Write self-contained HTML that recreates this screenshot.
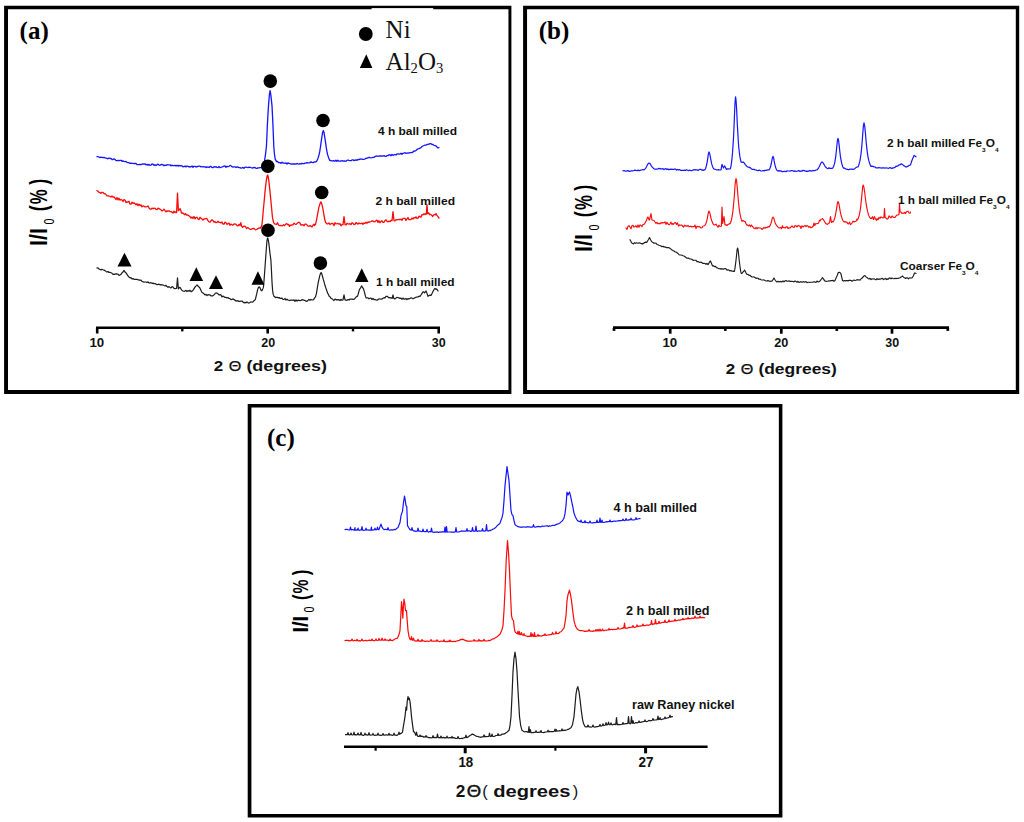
<!DOCTYPE html>
<html><head><meta charset="utf-8"><title>XRD patterns</title>
<style>
html,body{margin:0;padding:0;background:#fff;}
body{width:1024px;height:822px;overflow:hidden;font-family:"Liberation Sans",sans-serif;}
svg{display:block;}
</style></head>
<body>
<svg width="1024" height="822" viewBox="0 0 1024 822">
<rect width="1024" height="822" fill="#fff"/>
<path d="M4.1,5.85H511.4V393.9H4.1Z M8.00,9.30V390.00H508.45V9.30Z" fill="#000" fill-rule="evenodd"/>
<path d="M523.1,5.85H1019.2V393.9H523.1Z M527.05,9.35V390.00H1015.80V9.35Z" fill="#000" fill-rule="evenodd"/>
<path d="M247.7,403.95H782.4V817.6H247.7Z M251.40,407.50V813.90H778.85V407.50Z" fill="#000" fill-rule="evenodd"/>
<rect x="371.6" y="8.1" width="61.6" height="2" fill="#fff"/>
<text x="19.6" y="38.8" font-family="Liberation Serif, serif" font-weight="bold" font-size="25" fill="#000">(a)</text>
<text x="538.8" y="38.8" font-family="Liberation Serif, serif" font-weight="bold" font-size="25" fill="#000">(b)</text>
<text x="267" y="445.7" font-family="Liberation Serif, serif" font-weight="bold" font-size="25" fill="#000">(c)</text>
<circle cx="365.8" cy="34" r="6.9" fill="#000"/>
<path d="M359.8,68 L366.3,54.2 L372.4,68 Z" fill="#000"/>
<text x="385.6" y="38.1" font-family="Liberation Serif, serif" font-size="25" fill="#111">Ni</text>
<text x="385.6" y="69.6" font-family="Liberation Serif, serif" font-size="25" fill="#111">Al<tspan font-size="14.6" dy="3.2">2</tspan><tspan dy="-3.2">O</tspan><tspan font-size="14.6" dy="3.2">3</tspan></text>
<path d="M97.0,156.6 L98.0,156.7 L99.0,157.0 L100.0,157.7 L101.0,157.2 L102.0,157.4 L103.0,157.7 L104.0,157.3 L105.0,157.9 L106.0,158.1 L107.0,158.4 L108.0,158.8 L109.0,158.0 L110.0,158.5 L111.0,158.4 L112.0,159.5 L113.0,159.5 L114.0,158.8 L115.0,159.6 L116.0,160.5 L117.0,160.7 L118.0,160.5 L119.0,160.7 L120.0,160.3 L121.0,160.3 L122.0,161.3 L123.0,160.9 L124.0,161.3 L125.0,161.6 L126.0,161.5 L127.0,162.3 L128.0,162.6 L129.0,162.7 L130.0,163.4 L131.0,163.1 L132.0,163.4 L133.0,163.3 L134.0,163.7 L135.0,163.5 L136.0,163.4 L137.0,164.6 L138.0,164.7 L139.0,164.6 L140.0,164.3 L141.0,164.6 L142.0,164.1 L143.0,164.0 L144.0,164.1 L145.0,163.8 L146.0,164.9 L147.0,164.4 L148.0,165.1 L149.0,164.4 L150.0,165.3 L151.0,165.2 L152.0,163.9 L153.0,164.3 L154.0,165.4 L155.0,164.7 L156.0,165.5 L157.0,164.7 L158.0,164.2 L159.0,165.1 L160.0,165.3 L161.0,164.6 L162.0,164.4 L163.0,164.8 L164.0,165.8 L165.0,165.1 L166.0,165.5 L167.0,164.7 L168.0,164.9 L169.0,164.8 L170.0,164.8 L171.0,165.9 L172.0,165.1 L173.0,165.7 L174.0,165.6 L175.0,165.3 L176.0,166.1 L177.0,165.3 L178.0,166.1 L179.0,165.4 L180.0,165.9 L181.0,165.6 L182.0,165.8 L183.0,166.9 L184.0,166.7 L185.0,166.0 L186.0,166.9 L187.0,166.0 L188.0,166.3 L189.0,167.1 L190.0,166.6 L191.0,166.8 L192.0,166.0 L193.0,167.4 L194.0,166.3 L195.0,166.3 L196.0,167.1 L197.0,166.5 L198.0,166.5 L199.0,166.1 L200.0,166.2 L201.0,166.9 L202.0,166.5 L203.0,167.0 L204.0,166.7 L205.0,166.8 L206.0,167.6 L207.0,166.9 L208.0,167.1 L209.0,167.5 L210.0,166.5 L211.0,166.5 L212.0,167.6 L213.0,167.5 L214.0,166.7 L215.0,167.1 L216.0,166.6 L217.0,167.4 L218.0,167.6 L219.0,166.5 L220.0,167.6 L221.0,167.4 L222.0,167.0 L223.0,166.7 L224.0,166.2 L225.0,166.0 L226.0,167.4 L227.0,166.3 L228.0,166.6 L229.0,166.4 L230.0,165.4 L230.5,165.4 L231.5,166.4 L232.5,166.9 L233.0,167.1 L234.0,166.9 L235.0,166.8 L236.0,167.6 L237.0,166.8 L238.0,167.1 L239.0,167.6 L240.0,167.6 L241.0,168.1 L242.0,167.8 L243.0,167.4 L244.0,168.3 L245.0,167.3 L246.0,167.0 L247.0,167.4 L248.0,167.7 L249.0,167.2 L250.0,167.4 L251.0,167.7 L252.0,167.9 L253.0,168.0 L254.0,167.3 L255.0,167.6 L256.0,168.3 L257.0,168.4 L258.0,167.9 L259.0,167.9 L260.0,167.6 L261.0,167.7 L262.0,167.1 L263.0,166.9 L263.5,167.6 L264.6,160.6 L265.6,153.6 L266.4,146.6 L266.9,136.6 L267.3,126.2 L267.9,115.6 L268.5,105.6 L269.4,94.6 L270.1,90.6 L270.8,94.6 L272.0,105.6 L272.5,115.6 L273.0,126.2 L273.4,136.6 L273.8,146.6 L274.4,153.6 L275.2,159.1 L276.5,161.6 L277.5,161.3 L278.5,162.7 L279.5,162.7 L280.0,162.6 L281.0,163.4 L282.0,162.1 L283.0,163.1 L284.0,163.0 L285.0,163.4 L286.0,162.9 L287.0,164.0 L288.0,162.8 L289.0,163.6 L290.0,163.6 L291.0,164.0 L292.0,164.2 L293.0,164.0 L294.0,163.9 L295.0,164.0 L296.0,164.2 L297.0,163.4 L298.0,163.9 L299.0,164.2 L300.0,163.6 L301.0,164.0 L302.0,163.3 L303.0,163.7 L304.0,163.7 L305.0,163.2 L306.0,163.2 L307.0,162.7 L308.0,162.9 L309.0,162.9 L310.0,162.6 L311.0,161.9 L312.0,162.4 L313.0,162.7 L314.0,161.9 L315.0,162.1 L316.0,161.6 L316.8,161.1 L317.5,159.6 L318.2,157.6 L319.0,155.0 L319.7,151.7 L320.4,147.4 L321.1,142.3 L321.9,136.9 L322.6,132.4 L323.3,130.6 L324.0,132.4 L324.7,136.8 L325.5,142.1 L326.2,147.2 L326.9,151.3 L327.6,154.6 L328.4,157.1 L329.1,159.1 L329.8,160.6 L330.8,160.5 L331.8,161.0 L332.8,160.9 L333.8,160.7 L334.8,161.3 L335.8,160.3 L336.8,161.3 L337.8,160.3 L338.8,161.2 L340.0,161.1 L341.0,161.0 L342.0,160.6 L343.0,161.2 L344.0,160.9 L345.0,161.0 L346.0,161.4 L347.0,160.4 L348.0,160.0 L349.0,160.4 L350.0,160.6 L351.0,160.7 L352.0,159.9 L353.0,159.8 L354.0,160.7 L355.0,160.2 L356.0,159.8 L357.0,160.3 L358.0,159.4 L359.0,159.7 L360.0,158.9 L361.0,159.1 L362.0,159.1 L363.0,159.3 L364.0,159.3 L365.0,159.0 L366.0,158.2 L367.0,158.3 L368.0,157.7 L369.0,157.3 L370.0,157.6 L371.0,157.8 L372.0,157.6 L373.0,157.3 L374.0,157.4 L375.0,156.6 L376.0,156.2 L377.0,156.0 L378.0,156.3 L379.0,156.0 L380.0,155.8 L381.0,156.0 L382.0,156.2 L383.0,156.0 L384.0,155.6 L385.0,156.3 L386.0,156.4 L387.0,155.6 L388.0,155.6 L389.0,154.9 L390.0,154.7 L391.0,155.7 L392.0,154.5 L393.0,155.3 L394.0,154.9 L395.0,154.5 L396.0,155.0 L397.0,153.8 L398.0,153.8 L399.0,154.2 L400.0,154.1 L401.0,153.3 L402.0,154.3 L403.0,153.3 L404.0,153.0 L405.0,152.7 L406.0,153.4 L407.0,153.0 L408.0,153.1 L409.0,153.0 L410.0,152.6 L411.0,152.7 L412.0,152.6 L413.0,151.9 L414.0,151.0 L415.0,151.1 L416.0,150.5 L417.0,149.5 L418.0,148.8 L419.0,148.7 L420.0,148.1 L421.0,147.7 L422.0,146.5 L423.0,146.0 L424.0,145.5 L425.0,145.1 L426.0,145.1 L427.0,144.5 L428.0,144.3 L429.0,144.2 L430.0,143.6 L431.0,143.7 L432.0,144.5 L433.0,144.4 L434.0,145.4 L435.0,145.6 L436.0,145.9 L437.0,147.1 L438.0,147.9 L439.0,147.6" fill="none" stroke="#1414ff" stroke-width="1.3" stroke-linejoin="round" stroke-linecap="round"/>
<path d="M97.0,190.6 L98.0,191.2 L99.0,192.3 L100.0,192.6 L101.0,193.4 L102.0,192.3 L103.0,192.3 L104.0,193.6 L105.0,193.7 L106.0,194.6 L107.0,195.8 L108.0,195.9 L109.0,196.0 L110.0,196.3 L111.0,197.0 L112.0,196.0 L113.0,197.2 L114.0,196.8 L115.0,198.1 L116.0,199.5 L117.0,197.5 L118.0,199.9 L119.0,198.2 L120.0,200.1 L121.0,199.5 L122.0,200.0 L123.0,201.5 L124.0,199.6 L125.0,200.0 L126.0,202.6 L127.0,201.8 L128.0,202.1 L129.0,201.3 L130.0,204.0 L131.0,204.2 L132.0,202.2 L133.0,203.3 L134.0,202.9 L135.0,203.6 L136.0,204.8 L137.0,203.8 L138.0,205.6 L139.0,204.1 L140.0,205.6 L141.0,204.9 L142.0,206.9 L143.0,205.9 L144.0,206.2 L145.0,206.9 L146.0,206.8 L147.0,206.7 L148.0,205.9 L149.0,208.1 L150.0,209.0 L151.0,209.2 L152.0,208.1 L153.0,208.8 L154.0,208.1 L155.0,208.3 L156.0,209.4 L157.0,209.6 L158.0,208.1 L159.0,208.7 L160.0,209.2 L161.0,209.9 L162.0,210.9 L163.0,210.2 L164.0,209.1 L165.0,210.6 L166.0,211.7 L167.0,210.8 L168.0,211.3 L169.0,210.7 L170.0,211.5 L171.0,211.6 L172.0,212.1 L173.0,213.0 L174.0,211.1 L175.0,212.6 L176.0,211.6 L176.6,212.6 L177.5,193.1 L178.4,210.6 L179.4,209.7 L180.0,208.6 L181.0,211.1 L181.5,213.1 L182.5,212.9 L183.5,213.5 L184.5,214.7 L185.5,213.6 L186.5,215.1 L187.5,214.8 L188.5,215.4 L189.5,216.3 L190.0,216.6 L191.0,218.1 L192.0,217.0 L193.0,218.5 L194.0,216.5 L195.0,218.8 L196.0,217.5 L197.0,217.2 L198.0,219.0 L199.0,219.6 L200.0,217.3 L201.0,218.2 L202.0,219.1 L203.0,220.1 L204.0,219.0 L205.0,218.9 L206.0,218.5 L207.0,218.7 L208.0,220.6 L209.0,221.8 L210.0,222.1 L211.0,220.8 L212.0,219.7 L213.0,220.7 L214.0,222.2 L215.0,221.6 L216.0,222.7 L217.0,222.3 L218.0,221.3 L219.0,222.3 L220.0,222.3 L221.0,222.9 L222.0,222.0 L223.0,224.1 L224.0,224.1 L225.0,222.1 L226.0,222.7 L227.0,224.5 L228.0,223.6 L229.0,223.1 L230.0,225.2 L231.0,224.1 L232.0,224.8 L233.0,225.0 L234.0,223.8 L235.0,224.1 L236.0,224.2 L237.0,225.6 L238.0,225.8 L239.0,224.4 L240.0,225.6 L240.8,222.6 L241.6,226.1 L242.6,227.4 L243.6,226.3 L244.6,226.1 L245.6,226.8 L246.6,228.6 L247.6,227.6 L248.6,228.1 L249.6,229.1 L250.6,229.5 L251.6,229.1 L252.5,228.6 L253.5,228.3 L254.5,228.9 L255.5,229.9 L256.5,229.5 L257.5,228.9 L258.0,228.6 L259.0,228.0 L260.0,227.8 L260.5,228.1 L261.8,225.6 L262.6,218.6 L263.4,209.2 L264.4,198.6 L265.2,189.6 L266.3,180.6 L267.0,176.6 L267.6,175.0 L268.2,176.6 L268.8,180.6 L269.8,189.6 L270.7,198.6 L271.7,209.2 L272.5,217.6 L273.6,222.6 L274.6,223.9 L275.5,224.1 L276.5,224.4 L277.5,222.8 L278.5,225.0 L279.5,225.6 L280.5,225.4 L281.5,225.7 L282.5,225.8 L283.5,224.8 L284.5,225.6 L285.5,224.4 L286.5,223.6 L287.5,224.5 L288.5,224.4 L289.5,226.4 L290.0,225.1 L291.0,225.4 L292.0,224.8 L293.0,224.8 L294.0,223.2 L295.0,224.1 L296.0,224.4 L297.0,223.6 L298.0,222.6 L299.0,222.1 L300.0,223.2 L301.0,225.1 L302.0,224.9 L303.0,224.7 L304.0,225.8 L305.0,224.2 L306.0,224.1 L307.0,224.9 L308.0,226.1 L309.0,226.3 L310.0,225.6 L311.0,226.1 L312.0,227.0 L313.0,225.2 L314.0,224.1 L314.5,225.6 L315.6,224.1 L316.6,219.6 L317.6,214.1 L318.8,207.6 L320.0,203.6 L320.9,201.9 L321.7,203.6 L322.8,208.1 L323.8,214.1 L324.6,218.6 L325.6,222.6 L326.6,223.5 L327.0,223.9 L328.0,223.8 L329.0,223.0 L330.0,224.6 L331.0,223.6 L332.0,223.3 L333.0,223.6 L334.0,225.6 L335.0,222.7 L336.0,223.9 L337.0,223.7 L338.0,223.4 L339.0,224.2 L340.0,223.6 L341.0,225.8 L342.0,224.6 L343.0,224.6 L344.0,216.6 L345.0,224.6 L346.0,225.0 L347.0,223.2 L348.0,223.9 L349.0,224.1 L350.0,223.6 L351.0,224.6 L352.0,222.7 L353.0,223.3 L354.0,224.5 L355.0,224.4 L356.0,222.5 L357.0,223.4 L358.0,224.1 L359.0,222.9 L360.0,223.7 L361.0,223.7 L362.0,223.1 L363.0,224.4 L364.0,223.0 L365.0,223.3 L366.0,222.2 L367.0,223.2 L368.0,221.9 L369.0,222.3 L370.0,221.8 L371.0,221.5 L372.0,220.9 L373.0,221.0 L374.0,221.8 L375.0,221.6 L376.0,220.8 L377.0,220.1 L378.0,222.4 L379.0,220.7 L380.0,222.7 L381.0,221.6 L382.0,220.8 L383.0,222.3 L384.0,222.3 L385.0,220.5 L386.0,219.8 L387.0,221.3 L388.0,221.9 L389.0,221.1 L390.0,221.6 L391.0,220.4 L392.0,220.6 L393.0,211.6 L394.0,220.6 L395.0,220.8 L396.0,219.6 L397.0,219.8 L398.0,219.6 L399.0,219.4 L400.0,219.6 L401.0,219.2 L402.0,220.3 L403.0,218.3 L404.0,218.3 L405.0,218.4 L406.0,220.4 L407.0,219.0 L408.0,217.5 L409.0,219.7 L410.0,219.7 L411.0,219.5 L412.0,218.0 L413.0,219.0 L414.0,217.6 L415.0,218.1 L416.0,216.8 L417.0,218.5 L418.0,218.1 L419.0,216.1 L420.0,216.6 L421.0,217.2 L422.0,214.6 L423.0,214.9 L424.0,213.7 L425.0,214.6 L426.0,213.4 L426.4,214.1 L427.0,204.6 L427.6,213.6 L428.6,212.9 L429.6,214.6 L430.0,214.1 L431.0,214.7 L432.0,215.5 L432.5,216.6 L433.5,215.1 L434.5,214.5 L435.5,214.8 L436.0,213.6 L437.0,215.3 L438.0,216.6 L439.0,218.1" fill="none" stroke="#ff0a0a" stroke-width="1.3" stroke-linejoin="round" stroke-linecap="round"/>
<path d="M97.0,267.9 L98.0,267.9 L99.0,269.0 L100.0,269.4 L101.0,270.0 L102.0,269.3 L103.0,269.8 L104.0,270.1 L105.0,270.6 L106.0,271.4 L107.0,272.1 L108.0,271.5 L109.0,272.5 L110.0,272.3 L111.0,272.7 L112.0,273.3 L113.0,274.3 L114.0,274.2 L115.0,274.4 L116.0,273.6 L117.0,274.2 L118.0,274.0 L119.0,275.5 L120.0,274.9 L121.0,274.3 L122.0,272.9 L123.0,272.0 L124.0,270.4 L125.0,272.0 L126.0,272.9 L127.0,274.4 L128.0,275.9 L129.0,277.0 L130.0,277.9 L131.0,277.7 L132.0,279.0 L133.0,278.6 L134.0,279.3 L135.0,279.3 L136.0,279.3 L137.0,279.4 L138.0,279.8 L139.0,279.8 L140.0,280.4 L141.0,280.0 L142.0,281.5 L143.0,281.7 L144.0,282.2 L145.0,282.0 L146.0,282.0 L147.0,282.6 L148.0,281.8 L149.0,283.0 L150.0,282.8 L151.0,282.6 L152.0,283.4 L153.0,283.1 L154.0,283.8 L155.0,283.5 L156.0,284.1 L157.0,284.6 L158.0,284.4 L159.0,284.1 L160.0,284.9 L161.0,284.7 L162.0,284.8 L163.0,285.0 L164.0,285.5 L165.0,285.9 L166.0,285.4 L167.0,286.6 L168.0,287.3 L169.0,286.6 L170.0,287.4 L171.0,288.0 L172.0,286.6 L173.0,287.0 L174.0,288.4 L175.0,288.7 L176.0,288.5 L176.6,288.4 L177.5,277.9 L178.4,288.9 L179.4,287.5 L180.0,287.4 L181.0,289.0 L181.5,289.9 L182.5,290.8 L183.5,291.1 L184.5,291.3 L185.0,290.9 L186.0,290.3 L187.0,291.6 L188.0,290.6 L189.0,291.3 L190.0,290.2 L191.0,291.8 L192.0,291.1 L192.5,290.9 L193.5,289.6 L194.5,287.9 L195.5,286.4 L196.5,285.6 L197.0,284.9 L198.0,286.0 L199.0,287.0 L199.5,287.4 L200.5,289.3 L201.5,291.6 L202.0,292.4 L203.0,293.0 L204.0,293.8 L205.0,294.9 L206.0,294.4 L207.0,295.5 L208.0,294.6 L209.0,294.9 L210.0,294.8 L211.0,296.0 L212.0,295.9 L212.5,295.9 L213.5,295.2 L214.5,294.4 L215.5,293.0 L216.5,292.9 L217.5,293.6 L218.5,294.3 L219.0,294.9 L220.0,294.7 L221.0,294.9 L222.0,296.9 L223.0,296.0 L224.0,296.7 L225.0,297.4 L226.0,297.3 L227.0,298.1 L228.0,297.5 L229.0,298.5 L230.0,298.6 L231.0,299.7 L232.0,299.4 L233.0,298.8 L234.0,299.6 L235.0,300.1 L236.0,301.2 L237.0,300.7 L238.0,300.9 L239.0,301.4 L240.0,301.4 L241.0,301.2 L242.0,301.0 L243.0,302.0 L244.0,302.9 L245.0,302.4 L246.0,302.9 L247.0,301.9 L248.0,302.8 L249.0,303.1 L250.0,302.4 L251.0,301.8 L252.0,302.2 L253.0,301.9 L254.0,300.7 L255.3,299.6 L256.6,294.4 L257.6,289.9 L258.4,287.4 L259.3,286.8 L260.3,288.4 L261.3,290.7 L261.9,290.7 L262.8,288.9 L263.4,287.4 L263.9,282.1 L264.7,271.2 L265.5,260.2 L266.3,249.2 L266.9,241.4 L267.6,237.8 L268.4,240.4 L269.1,245.4 L270.0,253.4 L270.9,260.2 L271.5,271.2 L272.0,282.1 L272.6,290.4 L273.2,294.4 L274.0,296.4 L275.0,296.9 L275.5,297.6 L276.5,297.4 L277.5,297.4 L278.5,297.9 L279.5,297.5 L280.0,298.4 L281.0,298.4 L282.0,298.1 L283.0,299.5 L284.0,299.4 L285.0,298.5 L286.0,300.1 L287.0,299.2 L288.0,300.0 L289.0,300.3 L290.0,300.4 L291.0,300.1 L292.0,300.0 L293.0,300.4 L294.0,299.8 L295.0,301.3 L296.0,299.8 L297.0,301.2 L298.0,300.1 L299.0,300.3 L300.0,300.7 L301.0,300.4 L302.0,299.7 L303.0,299.9 L304.0,300.3 L305.0,300.4 L306.0,301.2 L307.0,301.4 L308.0,300.4 L309.0,299.4 L310.0,300.3 L311.0,299.4 L312.0,300.0 L313.0,300.0 L314.0,299.0 L315.0,297.4 L315.5,296.9 L316.5,293.1 L317.4,287.4 L318.3,282.1 L319.6,276.4 L320.4,273.6 L321.1,272.5 L321.7,273.6 L322.4,275.9 L323.3,279.4 L324.1,282.1 L325.1,285.8 L325.8,287.9 L326.8,290.8 L327.6,293.1 L328.6,294.7 L329.3,296.4 L330.3,297.0 L331.0,298.4 L332.0,298.7 L333.0,299.7 L334.0,300.5 L335.0,299.1 L336.0,299.8 L337.0,299.6 L338.0,299.9 L339.0,299.6 L340.0,300.5 L341.0,299.3 L342.0,300.3 L343.0,299.9 L344.0,294.9 L345.0,299.9 L346.0,300.1 L347.0,300.4 L348.0,299.5 L349.0,300.1 L350.0,299.0 L351.0,299.1 L352.0,299.1 L353.0,299.3 L354.0,299.3 L355.0,298.4 L356.0,297.1 L357.0,296.3 L357.5,296.4 L358.5,292.9 L359.5,289.4 L360.5,288.0 L361.5,285.9 L362.5,287.4 L363.5,288.9 L364.5,292.4 L365.5,296.4 L366.0,297.9 L367.0,297.9 L368.0,297.9 L369.0,298.9 L370.0,298.1 L371.0,298.2 L372.0,299.6 L373.0,298.5 L374.0,299.7 L375.0,299.4 L376.0,300.0 L377.0,300.1 L378.0,299.6 L379.0,298.8 L380.0,299.0 L381.0,299.3 L382.0,298.9 L383.0,298.4 L384.0,297.6 L385.0,297.9 L386.0,296.4 L387.0,296.3 L387.5,296.4 L388.5,297.7 L389.5,297.6 L390.0,297.9 L391.0,297.7 L392.2,298.4 L393.0,294.9 L393.8,298.4 L394.8,299.0 L395.8,298.3 L396.8,297.4 L397.8,297.5 L398.8,297.9 L400.0,298.4 L401.0,298.1 L402.0,299.3 L403.0,298.0 L404.0,299.2 L405.0,299.2 L406.0,298.4 L407.0,299.5 L408.0,298.6 L409.0,299.0 L410.0,298.4 L411.0,297.8 L412.0,298.1 L413.0,298.9 L414.0,298.1 L415.0,297.9 L416.0,297.1 L417.0,297.1 L418.0,297.0 L419.0,296.2 L420.0,296.4 L421.0,295.0 L422.0,293.4 L423.0,291.9 L424.0,291.9 L424.5,292.9 L425.5,291.9 L426.0,290.9 L427.0,293.4 L428.0,296.4 L429.0,295.5 L430.0,295.1 L431.0,295.4 L432.0,293.5 L433.0,291.4 L434.0,289.7 L435.0,288.4 L436.0,289.4 L436.5,288.9 L437.5,290.2 L438.0,290.9" fill="none" stroke="#1c1c1c" stroke-width="1.2" stroke-linejoin="round" stroke-linecap="round"/>
<circle cx="270.3" cy="81.1" r="6.8" fill="#000"/>
<circle cx="323" cy="120.5" r="6.8" fill="#000"/>
<circle cx="267.8" cy="166.3" r="6.8" fill="#000"/>
<circle cx="321.7" cy="192.5" r="6.8" fill="#000"/>
<circle cx="268.0" cy="230.2" r="6.8" fill="#000"/>
<circle cx="320.4" cy="263.1" r="6.8" fill="#000"/>
<path d="M117.5,266.6 L124.5,252.7 L131.5,266.6 Z" fill="#000"/>
<path d="M189.5,281 L196.3,267.2 L203.1,281 Z" fill="#000"/>
<path d="M209,289 L216.0,275.2 L223,289 Z" fill="#000"/>
<path d="M251.5,284.8 L257.95,271.3 L264.4,284.8 Z" fill="#000"/>
<path d="M355,282 L361.75,268.3 L368.5,282 Z" fill="#000"/>
<path d="M96,327.7 H440" stroke="#000" stroke-width="2.6" fill="none"/>
<path d="M97.2,328 V333.5" stroke="#000" stroke-width="2.6" fill="none"/>
<path d="M267.7,328 V333.5" stroke="#000" stroke-width="2.6" fill="none"/>
<path d="M438.7,328 V333.5" stroke="#000" stroke-width="2.6" fill="none"/>
<path d="M182.3,328 V331.4" stroke="#000" stroke-width="2.4" fill="none"/>
<path d="M353,328 V331.4" stroke="#000" stroke-width="2.4" fill="none"/>
<text x="89.4" y="346.5" font-family="Liberation Sans, sans-serif" font-weight="bold" font-size="12" fill="#111" textLength="14.8" lengthAdjust="spacingAndGlyphs" >10</text>
<text x="261.3" y="346.5" font-family="Liberation Sans, sans-serif" font-weight="bold" font-size="12" fill="#111" textLength="13.9" lengthAdjust="spacingAndGlyphs" >20</text>
<text x="431.8" y="346.5" font-family="Liberation Sans, sans-serif" font-weight="bold" font-size="12" fill="#111" textLength="13.9" lengthAdjust="spacingAndGlyphs" >30</text>
<text x="378" y="134.8" font-family="Liberation Sans, sans-serif" font-weight="bold" font-size="10.4" fill="#111" textLength="79.0" lengthAdjust="spacingAndGlyphs" >4 h ball milled</text>
<text x="375.5" y="205" font-family="Liberation Sans, sans-serif" font-weight="bold" font-size="10.4" fill="#111" textLength="79.5" lengthAdjust="spacingAndGlyphs" >2 h ball milled</text>
<text x="376" y="286.4" font-family="Liberation Sans, sans-serif" font-weight="bold" font-size="10.4" fill="#111" textLength="78.5" lengthAdjust="spacingAndGlyphs" >1 h ball milled</text>
<text x="213.8" y="371" font-family="Liberation Sans, sans-serif" font-weight="bold" font-size="14.6" fill="#111" textLength="9.4" lengthAdjust="spacingAndGlyphs">2</text><text x="228.8" y="371" font-family="Liberation Sans, sans-serif" font-weight="normal" font-size="14.0" fill="#111" stroke="#111" stroke-width="0.25" textLength="12.6" lengthAdjust="spacingAndGlyphs">Θ</text><text x="246.4" y="371" font-family="Liberation Sans, sans-serif" font-weight="bold" font-size="14.6" fill="#111" textLength="80.5" lengthAdjust="spacingAndGlyphs">(degrees)</text>
<text transform="translate(46.80,246.10) rotate(-90) scale(0.900,1.020)" font-family="Liberation Sans, sans-serif" font-weight="bold" font-size="24.00" fill="#000">I/I</text><text transform="translate(53.60,224.60) rotate(-90) scale(0.750,1.000)" font-family="Liberation Sans, sans-serif" font-weight="normal" font-size="14.40" fill="#000">0</text><text transform="translate(46.80,211.30) rotate(-90) scale(0.740,1.020)" font-family="Liberation Sans, sans-serif" font-weight="bold" font-size="24.00" fill="#000">(</text><text transform="translate(46.80,204.20) rotate(-90) scale(0.700,1.020)" font-family="Liberation Sans, sans-serif" font-weight="bold" font-size="24.00" fill="#000">%</text><text transform="translate(46.80,184.80) rotate(-90) scale(0.740,1.020)" font-family="Liberation Sans, sans-serif" font-weight="bold" font-size="24.00" fill="#000">)</text>
<path d="M623.0,170.9 L624.0,170.5 L625.0,171.1 L626.0,171.1 L627.0,170.9 L628.0,170.6 L629.0,171.3 L630.0,171.3 L631.0,170.9 L632.0,170.9 L633.0,170.8 L634.0,170.5 L635.0,170.1 L636.0,170.5 L637.0,170.7 L638.0,170.0 L639.0,170.8 L640.0,170.4 L641.0,170.0 L642.0,169.9 L643.0,169.5 L644.0,169.9 L644.8,169.1 L645.7,168.1 L646.5,166.7 L647.3,165.1 L648.2,163.6 L649.0,162.9 L649.8,163.4 L650.7,164.7 L651.5,166.1 L652.3,167.2 L653.2,168.1 L654.0,168.7 L655.0,169.3 L656.0,169.0 L657.0,169.2 L658.0,169.0 L659.0,168.3 L660.0,168.9 L661.0,168.7 L662.0,169.0 L663.0,168.6 L664.0,169.6 L665.0,168.9 L666.0,168.7 L667.0,169.6 L668.0,168.8 L669.0,169.8 L670.0,169.2 L671.0,169.4 L672.0,169.2 L672.5,169.4 L673.5,169.4 L674.5,169.2 L675.5,169.0 L676.5,170.1 L677.5,169.4 L678.5,170.1 L679.5,169.5 L680.5,170.4 L681.5,170.4 L682.5,170.3 L683.5,170.3 L684.5,170.2 L685.5,170.4 L686.5,169.8 L687.5,170.2 L688.5,170.7 L689.5,170.0 L690.0,170.4 L691.0,170.7 L692.0,170.6 L693.0,169.9 L694.0,169.9 L695.0,169.7 L696.0,169.8 L697.0,169.8 L698.0,170.5 L699.0,169.8 L700.0,169.3 L701.0,169.4 L702.0,170.2 L702.5,169.9 L703.5,170.4 L704.5,169.7 L705.0,169.7 L705.6,168.5 L706.1,166.8 L706.7,164.5 L707.3,161.3 L707.9,157.4 L708.4,153.6 L709.0,151.9 L709.7,153.5 L710.4,157.1 L711.1,160.9 L711.7,163.9 L712.4,166.2 L713.1,167.8 L713.8,168.9 L714.8,169.2 L715.8,169.5 L716.8,170.0 L717.5,169.9 L718.5,169.6 L719.5,170.0 L720.5,170.0 L721.0,169.9 L722.0,164.4 L723.0,166.8 L723.5,167.9 L724.5,165.9 L725.5,167.5 L726.5,169.4 L727.5,168.8 L728.5,168.8 L729.0,168.9 L730.0,169.0 L730.5,168.4 L731.0,165.9 L731.5,162.6 L732.0,158.4 L732.5,152.9 L733.0,145.6 L733.6,136.2 L734.1,124.6 L734.6,112.0 L735.1,101.2 L735.6,96.9 L736.1,100.9 L736.7,110.6 L737.2,122.1 L737.8,132.6 L738.3,141.2 L738.8,147.8 L739.4,152.8 L739.9,156.7 L740.5,159.6 L741.0,161.9 L742.2,162.4 L743.5,162.2 L744.5,163.4 L745.5,164.9 L746.5,166.0 L747.5,166.9 L748.5,167.2 L749.5,167.4 L750.5,167.9 L751.5,169.0 L752.5,169.4 L753.0,169.4 L754.0,169.4 L755.0,169.9 L756.0,170.0 L757.0,170.4 L758.0,170.6 L759.0,170.2 L760.0,170.4 L761.0,171.0 L762.0,171.0 L763.0,170.5 L764.0,170.9 L765.0,170.4 L766.0,170.4 L767.0,170.1 L768.0,169.8 L769.0,169.9 L769.6,169.0 L770.1,167.7 L770.7,166.0 L771.3,163.5 L771.9,160.6 L772.4,157.7 L773.0,156.4 L773.6,157.7 L774.1,160.7 L774.7,163.8 L775.3,166.3 L775.9,168.1 L776.4,169.5 L777.0,170.4 L778.0,171.1 L779.0,170.6 L780.0,171.2 L781.0,170.7 L782.0,171.6 L783.0,171.6 L784.0,171.3 L785.0,171.4 L786.0,171.7 L787.0,170.8 L788.0,171.0 L789.0,171.0 L790.0,171.1 L791.0,170.7 L792.0,170.5 L793.0,170.8 L794.0,171.4 L795.0,170.9 L796.0,171.5 L797.0,171.2 L798.0,170.9 L799.0,170.6 L800.0,171.5 L801.0,170.9 L802.0,171.2 L803.0,170.3 L804.0,170.6 L805.0,170.9 L806.0,171.3 L807.0,171.2 L808.0,171.3 L809.0,170.9 L810.0,170.7 L811.0,170.8 L812.0,171.1 L813.0,170.4 L814.0,170.7 L815.0,170.6 L816.0,170.0 L817.0,169.9 L817.8,169.0 L818.7,167.8 L819.5,166.3 L820.3,164.4 L821.2,162.6 L822.0,161.9 L822.8,162.5 L823.7,163.9 L824.5,165.3 L825.3,166.6 L826.2,167.5 L827.0,168.2 L828.0,168.6 L829.0,167.8 L830.0,168.4 L831.0,168.4 L832.0,168.4 L833.0,167.7 L833.6,166.5 L834.1,164.9 L834.7,162.8 L835.2,159.9 L835.8,156.1 L836.3,151.2 L836.9,145.5 L837.4,140.5 L838.0,138.4 L838.6,140.5 L839.2,145.6 L839.8,151.4 L840.4,156.4 L841.1,160.3 L841.7,163.2 L842.3,165.3 L842.9,167.0 L843.5,168.2 L844.5,168.0 L845.5,168.9 L846.5,169.2 L847.5,169.4 L848.5,169.8 L849.5,169.4 L850.5,169.0 L851.5,169.1 L852.0,169.2 L853.0,169.4 L854.0,169.1 L855.0,168.4 L856.0,167.6 L857.0,167.0 L858.0,166.9 L858.6,165.5 L859.2,163.7 L859.8,161.4 L860.4,158.2 L861.0,154.0 L861.6,148.4 L862.2,141.3 L862.8,133.1 L863.4,125.9 L864.0,122.9 L864.7,125.9 L865.4,133.0 L866.1,141.1 L866.8,148.1 L867.5,153.7 L868.2,157.8 L868.9,160.9 L869.6,163.3 L870.3,165.0 L871.0,166.4 L872.0,166.2 L873.0,166.3 L874.0,167.0 L875.0,166.9 L876.0,167.9 L877.0,167.9 L878.0,167.9 L879.0,167.5 L880.0,168.0 L881.0,167.8 L882.0,168.1 L883.0,167.8 L884.0,167.8 L885.0,168.2 L886.0,167.8 L887.0,168.0 L888.0,168.3 L889.0,168.1 L890.0,167.5 L891.0,168.2 L892.0,168.4 L893.0,167.9 L894.0,167.8 L895.0,167.4 L896.0,166.2 L897.0,166.3 L898.0,165.9 L899.0,164.9 L900.0,164.8 L901.0,163.9 L902.0,164.1 L903.0,164.9 L904.0,165.9 L905.0,166.3 L905.5,166.9 L906.5,166.9 L907.5,166.3 L908.0,166.4 L909.0,165.4 L910.0,165.1 L910.5,164.9 L911.5,161.8 L912.5,158.9 L913.5,156.8 L914.0,155.4 L915.0,156.0 L916.0,156.9" fill="none" stroke="#1414ff" stroke-width="1.2" stroke-linejoin="round" stroke-linecap="round"/>
<path d="M626.0,228.0 L627.0,229.3 L628.0,226.3 L629.0,225.7 L630.0,227.0 L631.0,228.7 L632.0,225.7 L633.0,225.3 L634.0,227.1 L635.0,226.5 L636.0,225.8 L637.0,227.4 L638.0,225.0 L639.0,227.3 L640.0,224.9 L641.0,225.6 L642.0,226.6 L642.5,225.0 L643.5,224.4 L644.5,224.0 L645.5,222.0 L646.5,220.4 L647.5,217.2 L648.0,217.0 L649.0,219.7 L649.5,220.0 L650.5,215.8 L651.0,213.5 L652.0,220.0 L653.0,220.2 L654.0,220.5 L655.0,222.0 L656.0,223.3 L657.0,222.4 L658.0,223.8 L659.0,223.3 L660.0,224.0 L661.0,222.6 L662.0,223.2 L663.0,222.5 L664.0,223.0 L665.0,221.8 L666.0,224.4 L667.0,222.3 L668.0,224.0 L669.0,224.8 L670.0,223.8 L671.0,222.1 L672.0,224.6 L672.5,223.5 L673.5,224.3 L674.5,222.8 L675.5,222.6 L676.5,224.4 L677.5,222.9 L678.5,226.1 L679.5,224.9 L680.5,225.2 L681.5,225.0 L682.5,226.0 L683.5,227.1 L684.5,225.2 L685.0,226.0 L686.0,225.6 L687.0,226.4 L688.0,225.4 L689.0,226.6 L690.0,226.5 L691.0,226.1 L692.0,227.1 L693.0,226.5 L694.0,226.7 L695.0,225.1 L696.0,228.5 L697.0,226.3 L698.0,226.6 L699.0,226.6 L700.0,227.0 L701.0,228.0 L702.0,227.8 L703.0,226.0 L704.0,225.8 L704.8,225.5 L705.4,224.6 L706.0,223.3 L706.6,221.5 L707.2,218.9 L707.8,215.7 L708.4,212.5 L709.0,211.0 L709.7,212.4 L710.4,215.5 L711.1,218.6 L711.9,221.1 L712.6,222.9 L713.3,224.1 L714.0,225.0 L715.0,224.9 L716.0,224.1 L717.0,225.7 L718.0,227.3 L719.0,225.2 L720.0,226.5 L721.0,226.3 L721.4,226.0 L722.0,207.0 L722.7,223.5 L724.0,216.5 L725.0,225.0 L726.0,224.8 L727.0,225.5 L728.0,224.4 L729.0,223.9 L729.5,224.0 L730.5,223.0 L731.0,221.3 L731.6,219.1 L732.1,216.4 L732.7,212.7 L733.2,208.1 L733.8,202.1 L734.4,195.0 L734.9,187.3 L735.5,181.0 L736.0,178.5 L736.6,180.9 L737.2,187.0 L737.8,194.3 L738.4,201.2 L739.0,206.9 L739.6,211.4 L740.2,214.9 L740.8,217.6 L741.4,219.7 L742.0,221.3 L743.0,220.3 L744.0,221.5 L745.0,221.4 L746.0,223.6 L747.0,225.2 L747.5,225.0 L748.5,225.8 L749.5,224.8 L750.5,226.7 L751.5,225.1 L752.5,226.5 L753.0,227.0 L754.0,228.3 L755.0,228.8 L756.0,227.3 L757.0,228.8 L758.0,227.7 L759.0,227.9 L760.0,228.0 L761.0,228.2 L762.0,229.5 L763.0,228.5 L764.0,227.4 L765.0,228.2 L766.0,227.3 L767.0,227.7 L768.0,226.6 L769.0,227.0 L769.7,226.2 L770.3,225.0 L771.0,223.2 L771.7,220.8 L772.3,218.2 L773.0,217.0 L773.8,218.2 L774.5,220.7 L775.2,222.9 L776.0,224.6 L776.8,225.7 L777.5,226.5 L778.5,227.7 L779.5,228.0 L780.5,227.4 L781.5,228.7 L782.5,225.8 L783.0,227.5 L784.0,227.6 L785.0,228.1 L786.0,227.1 L787.0,226.6 L788.0,228.6 L789.0,227.7 L790.0,228.0 L791.0,226.9 L792.0,225.9 L793.0,227.0 L794.0,227.5 L795.0,225.5 L796.0,225.9 L797.0,227.0 L798.0,225.5 L799.0,225.9 L800.0,226.1 L801.0,228.4 L802.0,225.8 L803.0,227.0 L804.0,226.1 L805.0,225.4 L806.0,226.7 L807.0,225.6 L808.0,226.1 L809.0,227.4 L810.0,226.5 L811.0,227.8 L812.0,227.4 L813.3,226.0 L814.0,223.0 L814.8,225.5 L815.8,223.5 L816.8,223.7 L817.5,223.5 L818.5,223.3 L819.5,220.4 L820.0,221.0 L821.0,219.3 L822.0,219.0 L822.5,218.5 L823.5,219.8 L824.5,221.5 L825.5,223.3 L826.5,224.0 L827.5,224.4 L828.5,223.2 L829.5,223.0 L830.5,216.5 L831.5,222.5 L832.5,221.4 L833.0,222.0 L833.6,221.0 L834.2,219.5 L834.9,217.6 L835.5,215.0 L836.1,211.4 L836.8,207.2 L837.4,203.2 L838.0,201.5 L838.8,203.2 L839.5,207.2 L840.2,211.4 L841.0,215.0 L841.8,217.6 L842.5,219.5 L843.2,221.0 L844.0,222.0 L845.0,221.6 L846.0,222.2 L847.0,222.0 L847.5,223.5 L848.5,224.0 L849.5,222.1 L850.5,224.6 L851.5,223.6 L852.0,223.0 L853.0,221.2 L854.0,222.0 L855.0,221.5 L856.0,221.2 L857.0,219.0 L857.5,220.0 L858.1,218.8 L858.6,217.3 L859.2,215.3 L859.8,212.6 L860.4,209.1 L860.9,204.6 L861.5,198.9 L862.1,192.6 L862.6,187.2 L863.2,185.0 L863.9,187.1 L864.7,192.3 L865.4,198.3 L866.1,203.7 L866.9,208.1 L867.6,211.4 L868.3,214.0 L869.0,215.9 L869.8,217.4 L870.5,218.5 L871.5,218.4 L872.5,216.7 L873.5,219.5 L874.5,216.6 L875.5,219.0 L876.5,220.3 L877.0,218.5 L878.0,219.7 L879.0,217.4 L880.0,218.4 L881.0,216.9 L882.0,217.5 L883.0,218.0 L883.9,217.5 L884.5,208.5 L885.1,217.5 L886.0,218.0 L887.0,219.1 L888.0,218.8 L889.0,215.9 L890.0,217.0 L891.0,217.8 L892.0,216.0 L893.0,217.0 L894.0,217.5 L895.0,217.4 L896.0,216.0 L897.0,215.0 L898.0,215.0 L899.0,214.5 L899.5,203.5 L900.1,212.0 L901.0,212.0 L902.0,213.5 L903.0,213.0 L904.0,213.2 L905.0,212.3 L905.5,213.5 L906.5,211.7 L907.0,211.5 L908.0,211.4 L909.0,213.0 L910.0,213.3 L910.5,212.0" fill="none" stroke="#ff0a0a" stroke-width="1.15" stroke-linejoin="round" stroke-linecap="round"/>
<path d="M630.0,239.7 L631.0,241.6 L632.0,243.1 L632.5,243.5 L633.5,244.0 L634.5,242.7 L635.5,243.3 L636.5,242.9 L637.0,243.0 L638.0,243.2 L639.0,242.8 L640.0,243.1 L641.0,243.6 L642.0,243.5 L642.5,244.0 L643.5,243.5 L644.5,242.5 L645.5,242.1 L646.5,242.5 L647.0,242.0 L648.0,240.3 L648.5,239.5 L649.5,237.5 L650.7,240.0 L652.0,242.0 L653.0,242.5 L654.0,243.2 L655.0,243.1 L656.0,243.2 L657.0,244.5 L658.0,244.7 L659.0,245.3 L660.0,245.5 L661.0,246.0 L662.0,246.7 L663.0,246.2 L664.0,247.1 L665.0,246.8 L666.0,247.4 L667.0,247.8 L668.0,247.6 L669.0,247.6 L670.0,248.5 L671.0,249.1 L672.0,250.1 L673.0,250.6 L674.0,251.0 L675.0,251.9 L676.0,252.0 L677.0,252.7 L678.0,253.5 L679.0,254.7 L680.0,255.0 L681.0,255.0 L682.0,255.3 L683.0,255.7 L684.0,256.0 L685.0,256.7 L686.0,257.5 L687.0,258.2 L688.0,258.0 L689.0,258.4 L690.0,259.0 L691.0,259.0 L692.0,259.4 L693.0,260.3 L694.0,260.3 L695.0,260.2 L696.0,260.3 L697.0,261.6 L698.0,261.5 L699.0,262.1 L700.0,262.5 L701.0,262.0 L702.0,262.7 L703.0,263.5 L704.0,263.3 L705.0,263.5 L706.0,264.3 L707.0,263.3 L708.0,264.6 L708.5,264.0 L709.5,262.0 L710.5,261.0 L711.5,263.5 L712.5,266.0 L713.5,265.7 L714.5,266.6 L715.5,266.4 L716.5,267.7 L717.5,267.9 L718.5,268.6 L719.5,268.7 L720.0,268.5 L721.0,269.2 L722.0,268.6 L723.0,269.3 L724.0,268.9 L725.0,268.5 L726.0,268.8 L727.0,270.1 L728.0,269.8 L729.0,270.1 L730.0,271.0 L731.0,270.5 L732.0,271.2 L733.0,271.0 L733.5,271.5 L734.3,271.5 L734.8,269.4 L735.2,266.6 L735.7,262.9 L736.2,258.5 L736.7,253.7 L737.1,249.6 L737.6,248.0 L738.1,249.8 L738.6,254.2 L739.1,259.4 L739.7,264.2 L740.2,268.1 L740.7,271.2 L741.2,273.5 L742.2,273.1 L743.0,272.0 L744.0,271.1 L744.5,270.0 L745.5,271.8 L746.0,273.0 L747.0,274.5 L748.0,274.4 L749.0,275.4 L750.0,275.3 L751.0,276.2 L752.0,277.0 L753.0,277.0 L754.0,276.9 L755.0,277.5 L756.0,278.4 L757.0,278.1 L758.0,278.2 L759.0,279.3 L760.0,279.0 L761.0,279.7 L762.0,280.0 L763.0,280.0 L764.0,279.9 L765.0,280.5 L766.0,281.0 L767.0,280.9 L768.0,280.6 L769.0,281.0 L770.0,281.5 L771.0,281.0 L772.0,281.1 L772.5,280.5 L773.5,278.9 L774.0,278.0 L775.0,279.7 L775.5,280.5 L776.5,281.8 L777.0,282.0 L778.0,281.3 L779.0,281.9 L780.0,281.4 L781.0,281.6 L782.0,281.9 L783.0,280.9 L784.0,281.8 L785.0,281.0 L786.0,280.4 L787.0,281.2 L788.0,281.3 L789.0,280.8 L790.0,281.4 L791.0,281.3 L792.0,281.4 L793.0,281.5 L794.0,281.9 L795.0,280.9 L796.0,281.5 L797.0,282.2 L798.0,281.3 L799.0,282.5 L800.0,282.0 L801.0,281.6 L802.0,282.4 L803.0,281.6 L804.0,282.1 L805.0,282.1 L806.0,281.6 L807.0,282.6 L808.0,282.3 L809.0,282.2 L810.0,282.5 L811.0,282.2 L812.0,282.2 L813.0,282.1 L814.0,281.7 L815.0,282.0 L816.0,282.4 L817.0,281.0 L818.0,281.9 L819.0,281.7 L820.0,281.0 L821.0,279.7 L821.5,279.0 L822.5,277.5 L823.7,279.5 L825.0,281.0 L826.0,281.4 L827.0,281.3 L828.0,281.2 L829.0,280.7 L830.0,281.0 L831.0,280.6 L832.0,280.6 L833.0,280.4 L834.0,281.3 L835.0,280.5 L836.0,278.1 L837.0,276.0 L838.3,272.5 L839.3,272.3 L840.0,272.5 L841.0,274.0 L842.0,278.3 L842.5,280.5 L843.5,281.1 L844.5,280.6 L845.5,280.9 L846.5,280.5 L847.5,280.6 L848.0,281.0 L849.0,280.3 L850.0,280.4 L851.0,280.4 L852.0,281.3 L853.0,280.6 L854.0,280.0 L855.0,280.5 L856.0,280.3 L857.0,279.6 L858.0,280.0 L859.0,279.7 L860.0,280.1 L860.5,279.5 L861.5,278.3 L862.5,277.9 L863.0,277.0 L864.0,276.0 L865.0,275.5 L866.0,277.0 L867.0,277.5 L868.0,278.4 L869.0,279.0 L870.0,278.3 L871.0,279.6 L872.0,278.8 L873.0,279.0 L874.0,278.7 L875.0,279.3 L876.0,279.8 L877.0,278.6 L878.0,279.5 L879.0,278.9 L880.0,279.3 L880.5,279.0 L881.5,278.6 L882.5,278.3 L883.5,279.6 L884.5,279.1 L885.5,278.3 L886.5,279.6 L887.0,278.8 L888.0,279.4 L889.0,278.2 L890.0,277.9 L891.0,278.8 L892.0,278.0 L893.0,278.5 L894.0,278.8 L895.0,278.3 L896.0,278.6 L897.0,278.3 L898.0,278.5 L899.0,278.0 L900.0,277.9 L901.0,277.0 L902.0,276.5 L902.5,276.0 L903.5,277.1 L904.0,277.5 L905.0,278.0 L905.5,278.5 L906.5,277.9 L907.5,277.8 L908.5,278.9 L909.0,278.3 L910.0,277.8 L911.0,278.0 L912.0,278.0 L913.3,276.0 L914.5,273.0 L915.5,273.1 L916.0,273.5" fill="none" stroke="#1c1c1c" stroke-width="1.15" stroke-linejoin="round" stroke-linecap="round"/>
<path d="M613,327.6 H949" stroke="#000" stroke-width="2.6" fill="none"/>
<path d="M670.2,328 V333.7" stroke="#000" stroke-width="2.7" fill="none"/>
<path d="M781.3,328 V333.7" stroke="#000" stroke-width="2.7" fill="none"/>
<path d="M892,328 V333.7" stroke="#000" stroke-width="2.7" fill="none"/>
<path d="M614,328 V330.9" stroke="#000" stroke-width="2.7" fill="none"/>
<path d="M725.3,328 V330.9" stroke="#000" stroke-width="2.7" fill="none"/>
<path d="M836.8,328 V330.9" stroke="#000" stroke-width="2.7" fill="none"/>
<path d="M947.8,328 V330.9" stroke="#000" stroke-width="2.7" fill="none"/>
<text x="662.4" y="346.5" font-family="Liberation Sans, sans-serif" font-weight="bold" font-size="12" fill="#111" textLength="14.8" lengthAdjust="spacingAndGlyphs" >10</text>
<text x="774.2" y="346.5" font-family="Liberation Sans, sans-serif" font-weight="bold" font-size="12" fill="#111" textLength="14.1" lengthAdjust="spacingAndGlyphs" >20</text>
<text x="885.3" y="346.5" font-family="Liberation Sans, sans-serif" font-weight="bold" font-size="12" fill="#111" textLength="13.9" lengthAdjust="spacingAndGlyphs" >30</text>
<text x="725.8" y="374.4" font-family="Liberation Sans, sans-serif" font-weight="bold" font-size="14.6" fill="#111" textLength="9.4" lengthAdjust="spacingAndGlyphs">2</text><text x="740.8" y="374.4" font-family="Liberation Sans, sans-serif" font-weight="normal" font-size="14.0" fill="#111" stroke="#111" stroke-width="0.25" textLength="12.6" lengthAdjust="spacingAndGlyphs">Θ</text><text x="758.4" y="374.4" font-family="Liberation Sans, sans-serif" font-weight="bold" font-size="14.6" fill="#111" textLength="78.5" lengthAdjust="spacingAndGlyphs">(degrees)</text>
<text transform="translate(592.00,252.00) rotate(-90) scale(0.900,1.020)" font-family="Liberation Sans, sans-serif" font-weight="bold" font-size="24.00" fill="#000">I/I</text><text transform="translate(598.80,230.50) rotate(-90) scale(0.750,1.000)" font-family="Liberation Sans, sans-serif" font-weight="normal" font-size="14.40" fill="#000">0</text><text transform="translate(592.00,217.20) rotate(-90) scale(0.740,1.020)" font-family="Liberation Sans, sans-serif" font-weight="bold" font-size="24.00" fill="#000">(</text><text transform="translate(592.00,210.10) rotate(-90) scale(0.700,1.020)" font-family="Liberation Sans, sans-serif" font-weight="bold" font-size="24.00" fill="#000">%</text><text transform="translate(592.00,190.70) rotate(-90) scale(0.740,1.020)" font-family="Liberation Sans, sans-serif" font-weight="bold" font-size="24.00" fill="#000">)</text>
<text x="887" y="147" font-family="Liberation Sans, sans-serif" font-weight="bold" font-size="11.3" fill="#111" textLength="111.5" lengthAdjust="spacingAndGlyphs">2 h ball milled Fe<tspan font-size="6.2" dy="4.9">3</tspan><tspan dy="-4.9">O</tspan><tspan font-size="6.2" dy="4.9">4</tspan></text>
<text x="898" y="203.6" font-family="Liberation Sans, sans-serif" font-weight="bold" font-size="11.3" fill="#111" textLength="111.5" lengthAdjust="spacingAndGlyphs">1 h ball milled Fe<tspan font-size="6.2" dy="4.9">3</tspan><tspan dy="-4.9">O</tspan><tspan font-size="6.2" dy="4.9">4</tspan></text>
<text x="900" y="269.6" font-family="Liberation Sans, sans-serif" font-weight="bold" font-size="11.3" fill="#111" textLength="78.5" lengthAdjust="spacingAndGlyphs">Coarser Fe<tspan font-size="6.2" dy="4.9">3</tspan><tspan dy="-4.9">O</tspan><tspan font-size="6.2" dy="4.9">4</tspan></text>
<path d="M345.0,529.6 L346.0,529.3 L347.0,529.4 L348.0,529.7 L349.0,530.0 L349.8,529.9 L350.5,527.1 L351.2,529.9 L352.2,529.7 L353.2,529.7 L354.3,530.1 L355.0,527.6 L355.0,530.1 L355.7,530.1 L356.7,529.9 L357.3,530.1 L358.0,528.1 L358.7,530.1 L359.7,530.3 L360.7,529.8 L361.3,530.1 L362.0,526.6 L362.7,530.1 L363.7,530.3 L364.7,530.2 L365.3,530.1 L366.0,528.1 L366.7,530.1 L367.7,529.8 L368.7,530.1 L369.7,530.1 L370.8,530.1 L371.5,527.1 L371.5,530.1 L372.2,530.1 L373.2,529.9 L374.3,529.9 L375.0,528.1 L375.7,529.9 L376.8,529.7 L377.5,527.1 L378.2,529.7 L379.0,529.6 L380.0,526.6 L381.0,524.1 L382.0,527.1 L383.0,528.6 L384.0,529.6 L385.0,529.4 L386.0,529.4 L387.3,529.8 L388.0,527.6 L388.7,529.8 L389.7,530.2 L390.7,529.9 L391.7,529.8 L392.5,530.1 L393.5,529.7 L394.5,529.4 L395.5,529.6 L396.0,529.1 L397.0,528.2 L398.0,527.6 L399.0,525.0 L400.0,522.6 L401.0,515.6 L402.0,512.6 L402.5,511.1 L403.5,502.6 L404.5,496.1 L405.3,500.6 L406.0,505.6 L406.8,506.6 L407.5,525.6 L408.5,527.3 L409.0,528.1 L410.0,529.6 L411.3,530.2 L412.0,527.6 L412.7,530.2 L413.7,530.9 L415.0,531.1 L416.0,531.4 L417.3,531.2 L418.0,528.1 L418.7,531.2 L419.7,531.2 L420.7,531.2 L421.7,531.7 L422.3,531.5 L423.0,529.1 L423.7,531.5 L425.0,531.6 L426.3,531.7 L427.0,529.4 L427.7,531.7 L428.7,532.1 L429.7,531.5 L430.8,531.9 L431.5,528.1 L432.2,531.9 L433.2,532.2 L434.2,532.3 L435.0,532.1 L436.0,532.2 L437.0,531.9 L438.0,532.3 L439.0,532.3 L440.0,531.9 L441.0,532.2 L442.0,531.9 L443.0,531.7 L444.3,532.1 L445.0,527.1 L445.7,532.1 L445.8,532.1 L446.5,526.6 L447.2,532.1 L448.2,532.0 L449.2,532.0 L450.2,532.0 L451.2,532.2 L452.5,532.1 L453.5,532.2 L454.5,532.2 L455.3,531.8 L456.0,527.6 L456.7,531.8 L457.7,532.0 L458.7,531.9 L459.7,531.6 L460.7,531.2 L461.7,530.9 L462.5,531.1 L463.5,531.2 L464.5,531.1 L465.5,531.2 L466.3,531.1 L467.0,528.6 L467.7,531.1 L468.7,530.8 L469.7,530.9 L470.7,531.4 L471.8,531.1 L472.5,527.6 L473.2,531.1 L474.2,531.2 L475.3,531.1 L476.0,526.1 L476.7,531.1 L477.7,531.3 L478.7,530.8 L480.0,531.1 L481.0,531.0 L481.8,531.0 L482.5,528.6 L483.2,531.0 L484.2,531.2 L485.2,530.9 L485.8,530.8 L486.5,524.6 L487.2,530.8 L488.2,531.1 L489.2,530.4 L490.0,530.6 L491.0,530.1 L492.0,529.8 L493.0,529.1 L494.0,528.8 L495.0,528.1 L496.0,527.1 L497.0,525.9 L498.0,524.9 L499.0,524.3 L500.0,523.1 L501.0,520.2 L502.0,517.6 L503.0,513.1 L504.0,500.6 L505.0,485.6 L506.0,476.1 L507.0,466.6 L508.0,473.6 L509.0,480.6 L510.0,495.6 L511.0,510.6 L512.0,514.6 L513.0,515.6 L514.0,520.6 L515.0,524.6 L516.0,525.5 L517.0,526.1 L518.0,526.7 L519.0,526.8 L520.0,527.1 L521.0,527.1 L522.0,527.3 L523.0,526.9 L524.0,527.0 L525.0,527.2 L526.0,527.2 L527.0,526.7 L528.0,526.8 L529.0,526.8 L530.0,527.1 L531.0,527.2 L532.0,527.1 L532.8,526.9 L533.5,524.6 L534.2,526.9 L535.2,527.1 L536.2,526.9 L537.5,526.6 L538.5,526.4 L539.5,526.7 L540.5,526.9 L541.5,526.3 L542.5,526.0 L543.5,526.3 L544.5,526.2 L545.5,526.0 L546.5,525.9 L547.5,525.9 L548.5,526.4 L549.5,525.8 L550.0,526.1 L551.0,526.0 L552.0,525.5 L553.0,525.3 L554.0,525.5 L555.0,525.1 L556.0,524.6 L557.0,524.1 L558.0,523.9 L559.0,523.6 L560.0,522.9 L561.0,521.9 L562.0,521.1 L563.0,519.8 L564.0,518.1 L565.0,513.6 L566.0,505.6 L567.0,492.1 L568.0,495.1 L569.0,493.1 L569.5,492.1 L570.5,495.6 L571.5,500.6 L572.5,505.3 L573.0,507.6 L574.0,513.1 L575.0,515.7 L576.0,518.1 L577.0,519.8 L577.5,520.6 L578.5,521.1 L579.5,521.4 L580.0,521.6 L580.3,522.0 L581.0,520.1 L581.7,522.0 L582.5,522.6 L583.5,522.3 L584.3,522.6 L585.0,520.6 L585.7,522.6 L586.7,522.3 L587.7,522.8 L588.7,522.8 L589.3,522.6 L590.0,521.1 L590.7,522.6 L591.7,523.0 L592.7,522.8 L593.7,522.7 L595.0,522.6 L596.3,522.5 L597.0,520.1 L597.7,522.5 L598.7,522.2 L599.3,522.4 L600.0,518.1 L600.7,522.4 L601.3,522.3 L602.0,520.1 L602.7,522.3 L603.7,522.5 L605.0,522.1 L606.0,521.7 L607.0,521.9 L608.0,521.6 L609.3,521.7 L610.0,520.1 L610.7,521.7 L612.0,521.6 L613.0,521.4 L614.0,521.2 L615.0,521.2 L616.0,521.3 L617.0,521.0 L618.0,520.7 L619.0,520.9 L620.0,520.6 L621.0,520.7 L622.3,520.4 L623.0,519.1 L623.7,520.4 L624.7,520.6 L625.3,520.2 L626.0,518.6 L626.7,520.2 L628.0,520.1 L629.0,519.7 L630.3,519.9 L631.0,518.1 L631.7,519.9 L632.7,519.9 L633.7,520.0 L635.0,519.6 L635.3,519.4 L636.0,517.6 L636.7,519.4 L637.7,519.0 L638.7,518.7 L640.0,518.6" fill="none" stroke="#1414ff" stroke-width="1.2" stroke-linejoin="round" stroke-linecap="round"/>
<path d="M345.0,640.6 L346.0,640.3 L347.0,640.4 L348.0,640.4 L349.0,640.9 L350.0,640.6 L351.3,640.6 L352.0,639.1 L352.7,640.6 L353.7,640.8 L354.7,640.3 L355.7,640.6 L356.3,640.6 L357.0,639.4 L357.7,640.6 L358.7,640.9 L359.7,640.6 L360.7,641.0 L361.3,640.6 L362.0,639.1 L362.7,640.6 L363.7,640.9 L364.7,640.5 L365.7,640.2 L366.7,640.8 L367.5,640.6 L368.5,640.3 L369.5,640.1 L370.5,640.6 L371.3,640.4 L372.0,639.1 L372.7,640.4 L373.7,640.6 L374.7,640.6 L375.3,640.3 L376.0,638.9 L376.7,640.3 L377.7,640.5 L378.3,640.2 L379.0,638.4 L379.7,640.2 L380.0,640.1 L381.3,640.2 L382.0,638.1 L382.7,640.2 L383.7,640.0 L384.3,640.3 L385.0,638.9 L385.7,640.3 L386.7,640.0 L387.7,640.1 L388.7,640.8 L389.3,640.5 L390.0,639.1 L390.7,640.5 L391.7,640.2 L392.5,640.6 L393.5,639.9 L394.5,639.3 L395.5,638.8 L396.5,638.3 L397.5,638.1 L398.5,635.7 L399.0,634.6 L400.0,630.6 L400.8,615.6 L401.5,601.6 L402.2,607.6 L402.8,618.1 L403.4,606.6 L404.0,599.1 L404.8,603.6 L405.5,610.6 L406.5,610.6 L407.2,620.6 L408.0,630.6 L409.0,636.6 L410.0,639.3 L410.8,639.8 L411.5,636.6 L412.2,639.8 L412.8,640.4 L413.5,638.1 L414.2,640.4 L415.0,641.1 L416.0,640.8 L417.3,641.1 L418.0,639.1 L418.7,641.1 L419.7,640.9 L420.7,641.4 L421.3,641.1 L422.0,639.6 L422.7,641.1 L423.7,640.8 L424.7,641.4 L425.7,641.3 L426.7,641.2 L427.7,641.2 L428.7,641.3 L430.0,641.1 L430.3,641.1 L431.0,639.6 L431.7,641.1 L432.7,641.2 L433.7,641.0 L434.7,641.1 L435.7,641.0 L436.3,641.2 L437.0,639.9 L437.7,641.2 L438.7,641.2 L439.7,641.7 L440.7,641.2 L441.7,641.0 L442.7,641.3 L443.3,641.4 L444.0,639.8 L444.7,641.4 L445.7,641.6 L446.7,641.4 L447.7,641.6 L448.7,641.1 L449.3,641.5 L450.0,640.1 L450.7,641.5 L451.7,641.2 L452.7,641.7 L453.7,641.2 L455.0,641.6 L456.0,641.2 L457.0,641.0 L458.0,640.6 L459.0,640.6 L460.0,639.9 L461.0,639.4 L462.0,639.6 L462.5,639.1 L463.5,639.6 L464.5,640.2 L465.5,640.4 L466.0,640.6 L467.0,641.1 L468.0,641.1 L469.0,641.1 L470.0,641.1 L471.0,641.1 L472.0,641.0 L473.3,641.0 L474.0,639.6 L474.7,641.0 L475.7,640.8 L476.7,640.8 L477.7,641.1 L478.3,640.9 L479.0,639.4 L479.7,640.9 L480.7,640.6 L481.7,641.1 L482.7,640.8 L483.3,640.8 L484.0,639.3 L484.7,640.8 L485.7,640.8 L486.7,641.0 L487.7,640.8 L488.7,640.4 L490.0,640.6 L491.0,639.9 L492.0,639.3 L493.0,638.8 L494.0,638.9 L495.0,638.1 L496.0,637.4 L497.0,636.8 L498.0,636.0 L499.0,635.0 L500.0,634.3 L501.0,632.1 L502.0,629.6 L503.0,625.6 L504.0,610.6 L505.0,590.6 L506.2,560.6 L507.5,540.6 L508.5,552.6 L509.5,570.6 L510.5,594.6 L511.5,615.6 L512.5,619.6 L513.5,620.6 L514.2,627.6 L515.0,631.6 L516.0,632.8 L517.0,633.6 L517.3,633.9 L518.0,631.1 L518.7,633.9 L518.8,634.3 L519.5,631.6 L520.0,634.6 L520.2,634.3 L520.8,634.7 L521.5,632.6 L522.2,634.7 L523.3,635.4 L524.0,633.6 L524.7,635.4 L525.7,635.8 L526.7,636.0 L527.5,636.6 L528.5,636.4 L529.5,636.2 L530.3,636.5 L531.0,632.6 L531.7,636.5 L531.8,636.4 L532.5,634.1 L533.2,636.4 L533.8,636.3 L534.5,632.6 L535.0,636.3 L535.2,636.3 L536.2,636.1 L537.3,636.1 L538.0,634.4 L538.7,636.1 L539.7,635.6 L540.7,636.0 L541.7,636.1 L542.5,635.6 L543.5,635.2 L544.3,635.3 L545.0,633.8 L545.7,635.3 L546.7,635.3 L547.7,635.0 L548.7,634.8 L550.0,634.6 L551.0,634.7 L551.8,634.3 L552.5,632.6 L553.2,634.3 L554.2,634.0 L555.0,633.9 L555.3,633.7 L556.0,631.6 L556.7,633.7 L557.7,633.7 L559.0,633.1 L560.0,632.0 L561.0,631.7 L562.0,630.6 L563.0,629.2 L564.0,628.1 L565.0,622.6 L566.0,615.6 L567.0,600.6 L568.0,594.6 L569.0,591.5 L569.5,590.1 L570.5,594.6 L571.5,600.6 L572.7,610.6 L574.0,620.6 L575.0,624.4 L575.5,626.1 L576.5,627.8 L577.5,629.3 L578.5,629.9 L579.5,630.5 L580.0,630.6 L581.0,630.6 L582.0,630.5 L583.0,630.8 L584.0,631.3 L585.0,631.1 L586.0,631.5 L587.0,630.9 L588.3,631.1 L589.0,629.6 L589.7,631.1 L590.7,631.1 L591.7,631.1 L592.7,631.4 L593.7,630.7 L595.0,631.1 L595.3,631.0 L596.0,629.6 L596.7,631.0 L597.3,630.9 L598.0,629.3 L598.7,630.9 L599.3,630.8 L600.0,629.1 L600.7,630.8 L601.8,630.6 L602.5,629.1 L603.2,630.6 L604.2,630.7 L605.0,630.3 L606.0,630.0 L607.0,630.1 L608.3,629.9 L609.0,628.4 L609.7,629.9 L610.7,629.5 L611.7,629.4 L612.7,629.8 L613.7,629.4 L615.0,629.3 L616.0,629.5 L617.3,628.9 L618.0,627.4 L618.7,628.9 L619.7,629.0 L620.7,628.8 L622.0,628.4 L623.0,627.9 L623.8,628.2 L624.5,623.1 L625.2,628.2 L626.2,628.1 L627.2,628.3 L628.2,627.8 L629.2,627.4 L630.0,627.6 L631.0,627.2 L632.3,627.2 L633.0,625.6 L633.7,627.2 L634.7,627.3 L635.7,627.1 L636.3,626.6 L637.0,624.9 L637.7,626.6 L638.7,626.2 L640.0,626.1 L641.0,625.8 L642.3,625.7 L643.0,624.1 L643.7,625.7 L644.7,625.7 L645.7,625.4 L646.7,625.0 L647.5,625.1 L648.5,625.3 L649.5,624.8 L650.8,624.5 L651.5,620.6 L652.2,624.5 L653.2,624.1 L654.2,623.7 L654.8,623.9 L655.5,619.6 L656.2,623.9 L657.2,623.6 L658.3,623.3 L659.0,621.3 L659.7,623.3 L660.0,623.1 L661.0,623.1 L662.0,622.5 L663.0,622.3 L664.3,622.4 L665.0,620.1 L665.7,622.4 L666.7,622.3 L667.7,622.2 L668.3,621.8 L669.0,619.9 L669.7,621.8 L670.0,621.6 L671.0,621.3 L672.0,621.2 L673.0,621.2 L674.3,620.9 L675.0,619.3 L675.7,620.9 L676.7,620.7 L677.7,620.2 L678.7,620.2 L680.0,620.1 L681.0,619.7 L682.3,619.6 L683.0,618.4 L683.7,619.6 L684.7,619.2 L685.7,618.9 L686.7,618.9 L687.3,618.9 L688.0,617.4 L688.7,618.9 L689.7,618.5 L690.7,618.7 L691.7,618.1 L692.5,618.1 L693.5,618.4 L694.3,618.0 L695.0,616.1 L695.7,618.0 L696.7,618.2 L698.0,617.9 L699.3,617.8 L700.0,616.1 L700.7,617.8 L701.7,617.6 L702.7,617.4 L703.7,617.7 L704.5,617.6" fill="none" stroke="#ff0a0a" stroke-width="1.2" stroke-linejoin="round" stroke-linecap="round"/>
<path d="M345.5,734.6 L346.5,734.7 L347.3,734.7 L348.0,732.6 L348.7,734.7 L349.7,734.8 L350.3,734.7 L351.0,733.1 L351.7,734.7 L352.7,735.0 L353.3,734.8 L354.0,732.1 L354.7,734.8 L355.7,734.6 L356.7,735.0 L357.3,734.8 L358.0,733.1 L358.7,734.8 L360.0,734.9 L360.3,734.9 L361.0,732.3 L361.7,734.9 L362.7,735.3 L363.7,735.3 L364.3,734.9 L365.0,733.1 L365.7,734.9 L366.7,734.7 L367.7,735.1 L368.3,735.0 L369.0,732.6 L369.7,735.0 L370.7,735.1 L371.7,735.0 L372.3,735.0 L373.0,733.4 L373.7,735.0 L374.7,735.4 L375.7,735.1 L376.7,735.0 L377.3,735.1 L378.0,733.1 L378.7,735.1 L380.0,735.1 L381.0,735.5 L382.3,735.1 L383.0,733.6 L383.7,735.1 L384.7,735.2 L385.7,734.9 L386.7,734.9 L387.7,735.1 L388.3,735.1 L389.0,733.3 L389.7,735.1 L390.7,734.7 L391.7,735.2 L392.7,735.3 L393.3,735.1 L394.0,733.1 L394.7,735.1 L395.7,735.0 L396.7,735.4 L397.5,735.1 L398.3,734.4 L399.0,732.1 L399.7,734.4 L400.5,733.6 L401.5,733.1 L402.5,732.1 L403.5,725.6 L404.5,719.6 L405.0,716.6 L406.0,707.1 L406.6,710.1 L407.3,700.6 L408.0,696.6 L408.8,699.6 L409.3,698.1 L410.0,701.6 L410.8,708.6 L411.5,716.6 L412.5,724.6 L413.5,731.6 L414.5,732.1 L415.5,734.6 L415.8,735.3 L416.5,732.1 L417.2,735.3 L417.5,736.1 L418.5,736.4 L419.3,736.4 L420.0,735.1 L420.7,736.4 L421.7,736.2 L422.7,736.3 L423.7,737.2 L424.7,736.8 L425.3,737.1 L426.0,735.6 L426.7,737.1 L427.7,737.0 L428.7,737.7 L430.0,737.6 L431.0,737.8 L432.3,737.7 L433.0,735.6 L433.7,737.7 L434.7,737.4 L435.7,737.6 L436.8,737.7 L437.5,734.1 L438.2,737.7 L439.2,737.5 L440.3,737.8 L441.0,736.1 L441.7,737.8 L442.7,737.6 L443.7,737.4 L444.7,737.9 L445.7,737.7 L446.3,737.9 L447.0,736.1 L447.7,737.9 L448.7,737.9 L449.7,737.7 L450.7,737.7 L451.3,738.0 L452.0,736.4 L452.7,738.0 L453.7,737.6 L455.0,738.1 L456.0,738.5 L457.3,738.3 L458.0,736.6 L458.7,738.3 L459.7,738.6 L460.7,738.5 L461.7,738.2 L462.5,738.6 L463.5,738.0 L464.5,737.6 L465.3,737.6 L466.0,735.1 L466.7,737.6 L468.0,737.1 L469.0,736.3 L470.0,735.5 L471.0,735.0 L472.0,734.2 L472.5,734.1 L473.5,734.5 L474.5,735.3 L475.5,735.8 L476.0,736.1 L477.0,736.3 L478.0,736.5 L479.0,736.9 L480.0,737.1 L481.0,737.3 L482.0,736.8 L483.3,736.8 L484.0,734.9 L484.7,736.8 L485.7,736.4 L486.7,736.7 L487.7,736.5 L488.8,736.5 L489.5,733.1 L490.2,736.5 L491.3,736.3 L492.0,734.1 L492.7,736.3 L493.7,736.5 L495.0,736.1 L496.0,735.5 L497.3,735.5 L498.0,733.6 L498.7,735.5 L500.0,735.1 L501.0,735.1 L502.0,734.1 L503.0,734.2 L504.0,733.9 L505.0,733.6 L506.0,732.7 L507.0,732.2 L508.0,731.2 L509.0,730.3 L510.0,725.6 L511.0,716.6 L512.0,695.6 L513.0,671.6 L514.0,658.6 L515.0,652.1 L516.0,658.6 L517.0,671.6 L518.0,690.6 L519.0,707.9 L519.5,716.6 L520.7,725.6 L522.0,730.3 L523.0,730.9 L524.0,731.6 L525.0,731.8 L526.0,731.5 L527.0,731.7 L527.5,732.1 L528.3,732.3 L529.0,726.6 L529.6,732.4 L529.7,732.3 L530.3,729.6 L531.0,732.4 L531.0,732.6 L532.0,732.6 L533.0,732.7 L534.0,732.4 L535.3,732.4 L536.0,730.6 L536.7,732.4 L537.7,732.3 L538.7,732.3 L539.7,732.1 L540.3,732.3 L541.0,730.6 L541.7,732.3 L542.7,732.5 L543.7,732.6 L545.0,732.1 L546.0,732.0 L547.3,731.9 L548.0,730.1 L548.7,731.9 L549.7,731.4 L550.7,731.6 L552.0,731.6 L553.0,731.7 L554.3,731.3 L555.0,729.1 L555.6,731.3 L555.7,731.3 L556.3,729.6 L557.0,731.3 L558.0,731.0 L559.0,730.7 L560.0,730.9 L561.3,730.7 L562.0,728.9 L562.7,730.7 L563.7,730.2 L565.0,730.3 L566.0,730.2 L567.0,729.8 L568.0,729.3 L568.5,729.3 L569.5,728.7 L570.5,728.1 L571.0,727.6 L572.0,725.8 L572.5,724.6 L573.5,719.3 L574.0,716.6 L575.0,705.6 L576.0,694.1 L577.0,688.6 L577.8,686.6 L579.0,691.6 L580.0,699.1 L581.3,710.6 L582.5,719.1 L583.5,723.6 L584.5,725.6 L585.0,726.6 L586.0,726.9 L587.3,726.8 L588.0,725.1 L588.7,726.8 L590.0,726.9 L591.0,727.2 L592.3,726.8 L593.0,725.1 L593.7,726.8 L594.7,727.1 L595.7,726.9 L596.7,726.7 L597.5,726.6 L598.5,726.3 L599.3,726.1 L600.0,724.4 L600.7,726.1 L601.7,726.0 L602.3,725.6 L603.0,723.8 L603.7,725.6 L604.7,725.3 L605.3,725.0 L606.0,722.6 L606.7,725.0 L607.5,724.6 L607.8,724.6 L608.5,722.1 L609.2,724.6 L610.3,724.6 L611.0,722.9 L611.7,724.6 L612.7,724.8 L613.7,724.4 L614.7,724.2 L615.8,724.6 L616.5,717.6 L617.2,724.6 L618.2,724.4 L619.2,724.7 L620.0,724.6 L621.0,724.5 L622.3,724.2 L623.0,722.6 L623.7,724.2 L624.7,723.8 L625.7,723.6 L627.0,723.6 L627.8,723.5 L628.5,716.6 L629.2,723.5 L630.2,723.8 L630.8,723.3 L631.5,716.6 L632.2,723.3 L632.3,723.3 L633.0,720.6 L633.7,723.3 L635.0,723.1 L636.0,722.5 L637.0,723.0 L638.3,722.4 L639.0,720.9 L639.7,722.4 L640.7,722.4 L642.0,721.9 L643.0,721.7 L644.3,721.4 L645.0,719.9 L645.7,721.4 L646.7,721.6 L647.7,721.2 L648.7,720.4 L650.0,720.6 L651.0,720.8 L652.3,720.3 L653.0,718.6 L653.7,720.3 L654.7,720.0 L656.0,719.9 L657.3,719.7 L658.0,716.1 L658.7,719.7 L659.3,719.5 L660.0,717.6 L660.7,719.5 L661.7,719.6 L662.5,719.1 L663.5,719.0 L664.3,718.6 L665.0,717.1 L665.7,718.6 L666.7,718.0 L668.0,717.9 L669.3,717.3 L670.0,715.1 L670.7,717.3 L671.7,716.6 L672.5,716.6" fill="none" stroke="#1c1c1c" stroke-width="1.2" stroke-linejoin="round" stroke-linecap="round"/>
<path d="M344,746.8 H707.6" stroke="#000" stroke-width="2.6" fill="none"/>
<path d="M465.2,746.5 V753.3" stroke="#000" stroke-width="3" fill="none"/>
<path d="M645.6,746.5 V753.3" stroke="#000" stroke-width="3" fill="none"/>
<path d="M375.6,746.5 V750.7" stroke="#000" stroke-width="2.2" fill="none"/>
<path d="M555.4,746.5 V750.7" stroke="#000" stroke-width="2.2" fill="none"/>
<text x="458.4" y="766.9" font-family="Liberation Sans, sans-serif" font-weight="bold" font-size="13.8" fill="#111" textLength="14.8" lengthAdjust="spacingAndGlyphs" >18</text>
<text x="638.4" y="766.9" font-family="Liberation Sans, sans-serif" font-weight="bold" font-size="13.8" fill="#111" textLength="15.0" lengthAdjust="spacingAndGlyphs" >27</text>
<text x="613.5" y="511.6" font-family="Liberation Sans, sans-serif" font-weight="bold" font-size="12.5" fill="#111" textLength="83.5" lengthAdjust="spacingAndGlyphs" >4 h ball milled</text>
<text x="626" y="614.6" font-family="Liberation Sans, sans-serif" font-weight="bold" font-size="12.5" fill="#111" textLength="83.5" lengthAdjust="spacingAndGlyphs" >2 h ball milled</text>
<text x="632" y="709" font-family="Liberation Sans, sans-serif" font-weight="bold" font-size="12.5" fill="#111" textLength="102.5" lengthAdjust="spacingAndGlyphs" >raw Raney nickel</text>
<text x="455.8" y="796.9" font-family="Liberation Sans, sans-serif" font-weight="bold" font-size="16.4" fill="#111" textLength="9.6" lengthAdjust="spacingAndGlyphs" >2</text>
<text x="466.7" y="796.9" font-family="Liberation Sans, sans-serif" font-weight="normal" font-size="15.6" fill="#111" textLength="14.4" lengthAdjust="spacingAndGlyphs" stroke="#111" stroke-width="0.45">Θ</text>
<text x="482.2" y="796.8" font-family="Liberation Sans, sans-serif" font-weight="normal" font-size="16.5" fill="#111" textLength="5.5" lengthAdjust="spacingAndGlyphs" >(</text>
<text x="493.2" y="796.9" font-family="Liberation Sans, sans-serif" font-weight="bold" font-size="16.4" fill="#111" textLength="77.2" lengthAdjust="spacingAndGlyphs" >degrees</text>
<text x="572.8" y="796.8" font-family="Liberation Sans, sans-serif" font-weight="normal" font-size="16.5" fill="#111" textLength="5.5" lengthAdjust="spacingAndGlyphs" >)</text>
<text transform="translate(308.20,632.60) rotate(-90) scale(0.900,1.020)" font-family="Liberation Sans, sans-serif" font-weight="bold" font-size="22.44" fill="#000">I/I</text><text transform="translate(313.96,612.50) rotate(-90) scale(0.750,1.000)" font-family="Liberation Sans, sans-serif" font-weight="normal" font-size="14.40" fill="#000">0</text><text transform="translate(308.20,600.06) rotate(-90) scale(0.740,1.020)" font-family="Liberation Sans, sans-serif" font-weight="bold" font-size="22.44" fill="#000">(</text><text transform="translate(308.20,593.43) rotate(-90) scale(0.700,1.020)" font-family="Liberation Sans, sans-serif" font-weight="bold" font-size="22.44" fill="#000">%</text><text transform="translate(308.20,575.29) rotate(-90) scale(0.740,1.020)" font-family="Liberation Sans, sans-serif" font-weight="bold" font-size="22.44" fill="#000">)</text>
</svg>
</body></html>
